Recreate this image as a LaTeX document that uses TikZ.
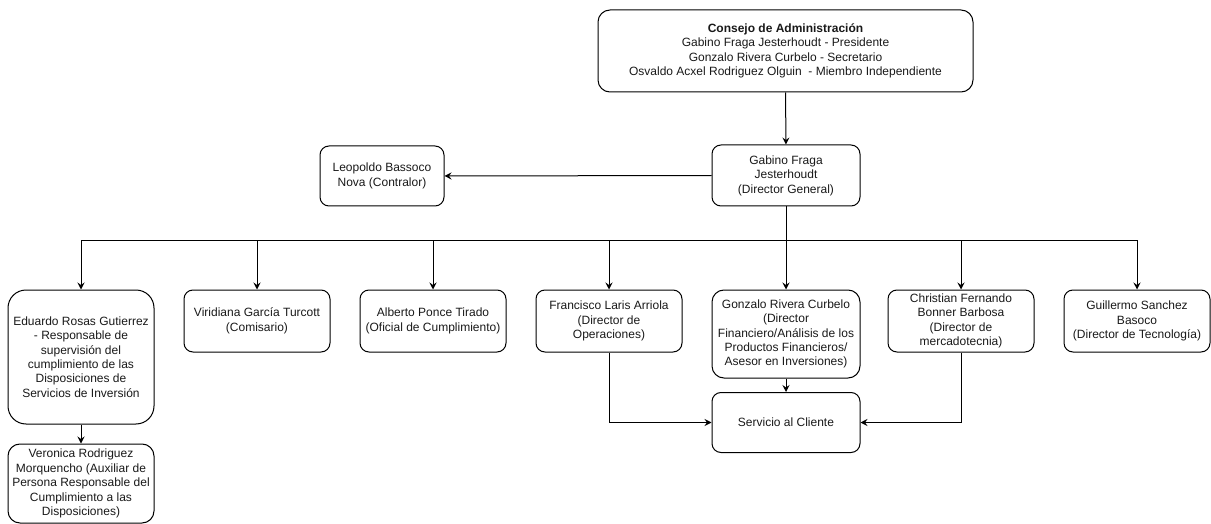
\documentclass[tikz,border=0pt]{standalone}
\usepackage{fontspec}
\setmainfont{Liberation Sans}
\usetikzlibrary{arrows.meta}
\begin{document}
\begin{tikzpicture}[x=1pt,y=-1pt,
  box/.style={draw=black,line width=1pt,align=center,inner sep=1pt,
    font=\fontsize{12}{14.4}\selectfont,text=black!90},
  arr/.style={draw=black,line width=1pt,-{Stealth[length=7pt,width=7pt,inset=2.5pt]}},
  ln/.style={draw=black,line width=1pt}]
\useasboundingbox (0,0) rectangle (1211,524);
\node[box,rounded corners=12pt,minimum width=375pt,minimum height=82pt] (cons) at (785.5,51)
  {\textbf{Consejo de Administración}\\Gabino Fraga Jesterhoudt - Presidente\\Gonzalo Rivera Curbelo - Secretario\\Osvaldo Acxel Rodriguez Olguin\ \ - Miembro Independiente};
\node[box,rounded corners=9pt,minimum width=148pt,minimum height=61pt] (dg) at (786,175.5)
  {Gabino Fraga\\Jesterhoudt\\(Director General)};
\node[box,rounded corners=9pt,minimum width=124pt,minimum height=60pt] (contr) at (382,176)
  {Leopoldo Bassoco\\Nova (Contralor)};
\node[box,rounded corners=18pt,minimum width=146pt,minimum height=134pt] (edu) at (81,357)
  {Eduardo Rosas Gutierrez\\- Responsable de\\supervisión del\\cumplimiento de las\\Disposiciones de\\Servicios de Inversión};
\node[box,rounded corners=9pt,minimum width=146pt,minimum height=62pt] (viri) at (257,321)
  {Viridiana García Turcott\\(Comisario)};
\node[box,rounded corners=9pt,minimum width=146pt,minimum height=62pt] (alb) at (433,321)
  {Alberto Ponce Tirado\\(Oficial de Cumplimiento)};
\node[box,rounded corners=9pt,minimum width=146pt,minimum height=62pt] (fran) at (609,321)
  {Francisco Laris Arriola\\(Director de\\Operaciones)};
\node[box,rounded corners=12pt,minimum width=148pt,minimum height=88pt] (gonz) at (786,334)
  {Gonzalo Rivera Curbelo\\(Director\\Financiero/Análisis de los\\Productos Financieros/\\Asesor en Inversiones)};
\node[box,rounded corners=9pt,minimum width=146pt,minimum height=62pt] (chris) at (961,321)
  {Christian Fernando\\Bonner Barbosa\\(Director de\\mercadotecnia)};
\node[box,rounded corners=9pt,minimum width=146pt,minimum height=62pt] (guil) at (1137,321)
  {Guillermo Sanchez\\Basoco\\(Director de Tecnología)};
\node[box,rounded corners=12pt,minimum width=146pt,minimum height=79pt] (vero) at (81,483.5)
  {Veronica Rodriguez\\Morquencho (Auxiliar de\\Persona Responsable del\\Cumplimiento a las\\Disposiciones)};
\node[box,rounded corners=9pt,minimum width=148pt,minimum height=60pt] (serv) at (786,422.5)
  {Servicio al Cliente};
\coordinate (j) at (786,240);
\draw[arr] (cons.south) -- (dg.north);
\draw[arr] (dg.west) -- (contr.east);
\draw[arr] (dg.south) -- (gonz.north);
\draw[arr] (j) -| (edu.north);
\draw[arr] (j) -| (viri.north);
\draw[arr] (j) -| (alb.north);
\draw[arr] (j) -| (fran.north);
\draw[arr] (j) -| (chris.north);
\draw[arr] (j) -| (guil.north);
\draw[arr] (edu.south) -- (vero.north);
\draw[arr] (gonz.south) -- (serv.north);
\draw[arr] (fran.south) |- (serv.west);
\draw[arr] (chris.south) |- (serv.east);
\end{tikzpicture}
\end{document}
